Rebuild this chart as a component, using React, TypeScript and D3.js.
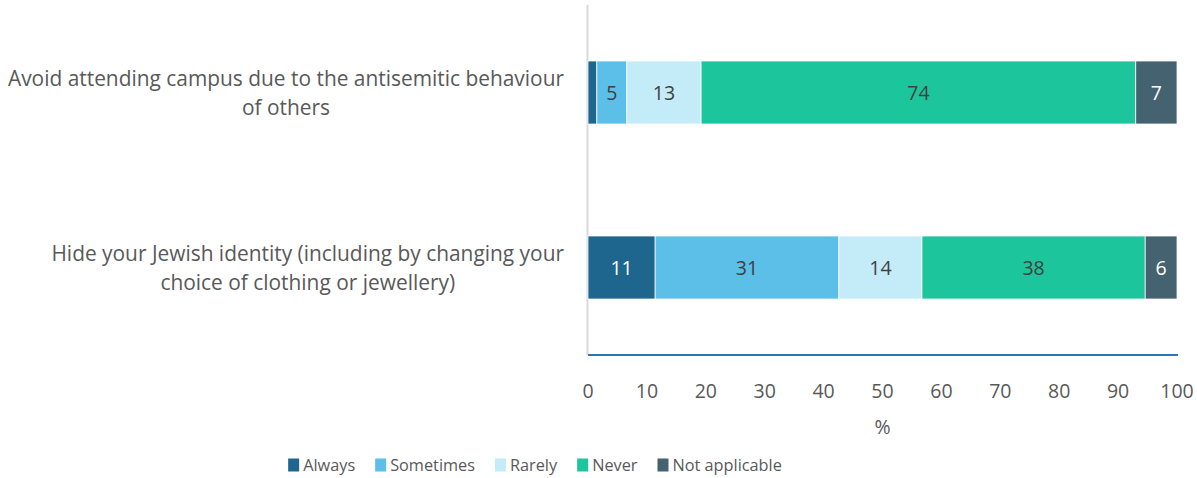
import React, { useEffect, useRef } from "react";
import * as d3 from "d3";

const categories = [
  ["Avoid attending campus due to the antisemitic behaviour", "of others"],
  ["Hide your Jewish identity (including by changing your", "choice of clothing or jewellery)"],
];
const seriesNames = ["Always", "Sometimes", "Rarely", "Never", "Not applicable"];
const always = [1.5, 11.4];
const sometimes = [5.1, 31.2];
const rarely = [12.6, 14.1];
const never = [73.8, 37.9];
const notApplicable = [7.0, 5.4];
const labelsShown = [
  [null, "5", "13", "74", "7"],
  ["11", "31", "14", "38", "6"],
];
const xTicks = [0, 10, 20, 30, 40, 50, 60, 70, 80, 90, 100];
const colors = ["#1F668E", "#5BBFE8", "#C4EBF8", "#1DC59C", "#456270"];
const labelColors = ["#FFFFFF", "#404040", "#404040", "#404040", "#FFFFFF"];

const W = 1197;
const H = 478;
const FONT = "'Open Sans', sans-serif";

export default function App() {
  const ref = useRef<SVGSVGElement | null>(null);
  useEffect(() => {
    const svg = d3.select(ref.current);
    svg.selectAll("*").remove();
    const x = d3.scaleLinear().domain([0, 100]).range([588, 1177]);
    const y = d3.scaleBand().domain(["0", "1"]).range([5, 355]).paddingInner(0.64).paddingOuter(0.32);
    const series = [always, sometimes, rarely, never, notApplicable];

    // y axis line
    svg.append("line").attr("x1", 587.5).attr("x2", 587.5).attr("y1", 5).attr("y2", 355)
      .attr("stroke", "#D9D9D9").attr("stroke-width", 2);

    categories.forEach((_, i) => {
      let cum = 0;
      const y0 = y(String(i))!;
      const bh = y.bandwidth();
      series.forEach((s, k) => {
        const v = s[i];
        const x0 = x(cum);
        const x1 = x(cum + v);
        svg.append("rect").attr("x", x0).attr("y", y0).attr("width", x1 - x0).attr("height", bh)
          .attr("fill", colors[k]).attr("stroke", "#FFFFFF").attr("stroke-width", 0.75);
        const lab = labelsShown[i][k];
        if (lab) {
          svg.append("text").attr("x", (x0 + x1) / 2).attr("y", y0 + bh / 2)
            .attr("text-anchor", "middle").attr("dominant-baseline", "central")
            .attr("font-family", FONT).attr("font-size", 19.5).attr("fill", labelColors[k]).text(lab);
        }
        cum += v;
      });
      // category labels
      const g = svg.append("g");
      const lines = categories[i];
      const cy = y0 + bh / 2;
      const texts = lines.map((l, j) =>
        g.append("text").attr("y", cy + (j - (lines.length - 1) / 2) * 29)
          .attr("dominant-baseline", "central").attr("text-anchor", "middle")
          .attr("font-family", FONT).attr("font-size", 20.9).attr("fill", "#595959").text(l)
      );
      const maxW = d3.max(texts, (t) => (t.node() as SVGTextElement).getComputedTextLength()) || 0;
      const center = 564 - maxW / 2;
      texts.forEach((t) => t.attr("x", center));
    });

    // x axis
    svg.append("line").attr("x1", 588).attr("x2", 1178).attr("y1", 355).attr("y2", 355)
      .attr("stroke", "#2E75B6").attr("stroke-width", 2);
    xTicks.forEach((t) => {
      svg.append("text").attr("x", x(t)).attr("y", 390).attr("text-anchor", "middle")
        .attr("dominant-baseline", "central").attr("font-family", FONT).attr("font-size", 19.5)
        .attr("fill", "#595959").text(String(t));
    });
    svg.append("text").attr("x", x(50)).attr("y", 426).attr("text-anchor", "middle")
      .attr("dominant-baseline", "central").attr("font-family", FONT).attr("font-size", 19.5)
      .attr("fill", "#595959").text("%");

    // legend
    const legend = svg.append("g");
    let lx = 0;
    seriesNames.forEach((n, k) => {
      legend.append("rect").attr("x", lx).attr("y", -6.5).attr("width", 11).attr("height", 13).attr("fill", colors[k]);
      const t = legend.append("text").attr("x", lx + 15).attr("y", 0).attr("dominant-baseline", "central")
        .attr("font-family", FONT).attr("font-size", 16.3).attr("fill", "#595959").text(n);
      lx += 15 + (t.node() as SVGTextElement).getComputedTextLength() + 20;
    });
    const totalW = lx - 20;
    legend.attr("transform", `translate(${(290 + 780) / 2 - totalW / 2},465)`);
  }, []);

  return (
    <svg ref={ref} width={W} height={H} style={{ position: "absolute", left: 0, top: 0, background: "#fff" }} />
  );
}
